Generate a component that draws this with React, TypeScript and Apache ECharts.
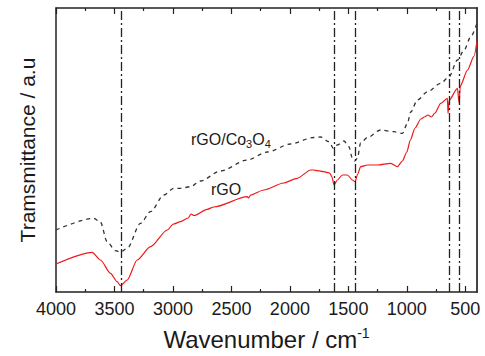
import React, { useEffect, useRef } from "react";
import * as echarts from "echarts";

// Wavenumbers (cm-1) and transmittance (a.u.)
const rgoWavenumbers = [4000, 3691, 3620, 3534, 3477, 3449, 3391, 3306, 3192, 3049, 2995, 2935, 2870, 2845, 2820, 2707, 2650, 2364, 2353, 2336, 2222, 2054, 1937, 1822, 1797, 1765, 1711, 1660, 1640, 1623, 1594, 1551, 1508, 1465, 1443, 1420, 1395, 1337, 1252, 1138, 1081, 1038, 1000, 970, 930, 880, 850, 820, 790, 760, 710, 653, 648, 637, 567, 553, 543, 481, 425, 400];
const rgoValues = [28, 39.7, 32, 18.7, 10.3, 6.3, 12, 32, 45.3, 62, 68, 70.3, 74, 78, 76.5, 82.7, 85, 95.3, 94, 97, 102, 109, 113.7, 122, 122, 121.3, 120.3, 119, 115, 107, 112, 117, 117, 112, 110.3, 118, 125.3, 127, 127, 128.7, 125.3, 131, 140, 152, 164, 173, 175, 177, 175, 179, 188.7, 193.7, 178.7, 192, 203.7, 188.7, 206, 222, 236, 251];

const compositeWavenumbers = [4000, 3677, 3620, 3563, 3492, 3449, 3391, 3277, 3192, 3078, 2993, 2935, 2850, 2765, 2593, 2364, 2193, 1994, 1797, 1737, 1666, 1628, 1594, 1538, 1495, 1466, 1446, 1423, 1395, 1337, 1224, 1110, 1038, 995, 967, 909, 824, 710, 639, 567, 510, 453, 400];
const compositeValues = [62, 73.7, 70, 50.3, 41.3, 40, 43.7, 68.7, 80.3, 97, 103.7, 103.7, 105.3, 111, 121, 132, 140, 148, 154.5, 155, 150.3, 143.7, 147, 151, 145.3, 134, 131, 133.7, 149, 154.5, 162, 160.3, 158.7, 168.7, 180, 192, 200.3, 208.7, 215.3, 232, 242, 255.3, 269];

const markerWavenumbers = [3440, 1620, 1445, 640, 550];
const majorTicks = [4000, 3500, 3000, 2500, 2000, 1500, 1000, 500];
const minorTicks = [3750, 3250, 2750, 2250, 1750, 1250, 750];

const FONT = "Liberation Sans, Arial, sans-serif";
const TEXT_COLOR = "#1a1a1a";

export default function App() {
  const ref = useRef<HTMLDivElement>(null);
  useEffect(() => {
    if (!ref.current) return;
    const chart = echarts.init(ref.current, null, { renderer: "svg" });
    const pair = (w: number[], v: number[]) => w.map((x, i) => [x, v[i]]);
    const baseX = {
      type: "value",
      min: 400,
      max: 4000,
      inverse: true,
      splitLine: { show: false },
    };
    const option: any = {
      animation: false,
      backgroundColor: "#fff",
      grid: { left: 56, right: 8, top: 8, bottom: 64, containLabel: false, outerBoundsMode: "none" },
      xAxis: [
        {
          ...baseX,
          position: "bottom",
          axisLine: { show: true, lineStyle: { color: "#222", width: 1.5 } },
          axisTick: { show: true, inside: true, length: 6, customValues: majorTicks, lineStyle: { color: "#222", width: 1.2 } },
          axisLabel: {
            show: true,
            customValues: majorTicks,
            formatter: (v: number) => String(v),
            margin: 8,
            fontSize: 18,
            color: TEXT_COLOR,
            fontFamily: FONT,
          },
          name: "{a|Wavenumber / cm}{s|-1}",
          nameLocation: "middle",
          nameGap: 34,
          nameTextStyle: {
            rich: {
              a: { fontSize: 24, color: TEXT_COLOR, fontFamily: FONT, lineHeight: 26 },
              s: { fontSize: 14, color: TEXT_COLOR, fontFamily: FONT, verticalAlign: "top", lineHeight: 14 },
            },
          },
        },
        {
          ...baseX,
          position: "bottom",
          axisLine: { show: false },
          axisTick: { show: true, inside: true, length: 3, customValues: minorTicks, lineStyle: { color: "#222", width: 1.2 } },
          axisLabel: { show: false },
        },
        {
          ...baseX,
          position: "top",
          axisLine: { show: true, lineStyle: { color: "#222", width: 1.5 } },
          axisTick: { show: true, inside: true, length: 6, customValues: majorTicks, lineStyle: { color: "#222", width: 1.2 } },
          axisLabel: { show: false },
        },
        {
          ...baseX,
          position: "top",
          axisLine: { show: false },
          axisTick: { show: true, inside: true, length: 3, customValues: minorTicks, lineStyle: { color: "#222", width: 1.2 } },
          axisLabel: { show: false },
        },
      ],
      yAxis: [
        {
          type: "value",
          min: 0,
          max: 284,
          position: "left",
          splitLine: { show: false },
          axisLine: { show: true, lineStyle: { color: "#222", width: 1.5 } },
          axisTick: { show: false },
          axisLabel: { show: false },
          name: "Tramsmittance / a.u",
          nameLocation: "middle",
          nameGap: 18,
          nameTextStyle: { fontSize: 21, color: TEXT_COLOR, fontFamily: FONT },
        },
        {
          type: "value",
          min: 0,
          max: 284,
          position: "right",
          splitLine: { show: false },
          axisLine: { show: true, lineStyle: { color: "#444", width: 2 } },
          axisTick: { show: false },
          axisLabel: { show: false },
        },
      ],
      series: [
        {
          name: "rGO/Co3O4",
          type: "line",
          data: pair(compositeWavenumbers, compositeValues),
          showSymbol: false,
          symbol: "none",
          smooth: 0.3,
          smoothMonotone: "x",
          lineStyle: { color: "#333", width: 1.3, type: [4, 4] },
        },
        {
          name: "rGO",
          type: "line",
          data: pair(rgoWavenumbers, rgoValues),
          showSymbol: false,
          symbol: "none",
          smooth: 0.25,
          smoothMonotone: "x",
          lineStyle: { color: "#f01818", width: 1.2 },
          markLine: {
            silent: true,
            symbol: ["none", "none"],
            label: { show: false },
            lineStyle: { color: "#222", width: 1.3, type: [9, 3, 2, 3] },
            data: markerWavenumbers.map((w) => ({ xAxis: w })),
          },
        },
      ],
      graphic: [
        {
          type: "text",
          x: 191,
          y: 139,
          style: {
            text: "{a|rGO/Co}{s|3}{a|O}{s|4}",
            verticalAlign: "middle",
            rich: {
              a: { fontSize: 16, fill: TEXT_COLOR, fontFamily: FONT, lineHeight: 20 },
              s: { fontSize: 11, fill: TEXT_COLOR, fontFamily: FONT, verticalAlign: "bottom", lineHeight: 12 },
            },
          },
        },
        {
          type: "text",
          x: 211,
          y: 189,
          style: { text: "rGO", fontSize: 16, fill: TEXT_COLOR, fontFamily: FONT, verticalAlign: "middle" },
        },
      ],
    };
    chart.setOption(option);
    return () => chart.dispose();
  }, []);
  return <div ref={ref} style={{ position: "fixed", left: 0, top: 0, width: 485, height: 356 }} />;
}
